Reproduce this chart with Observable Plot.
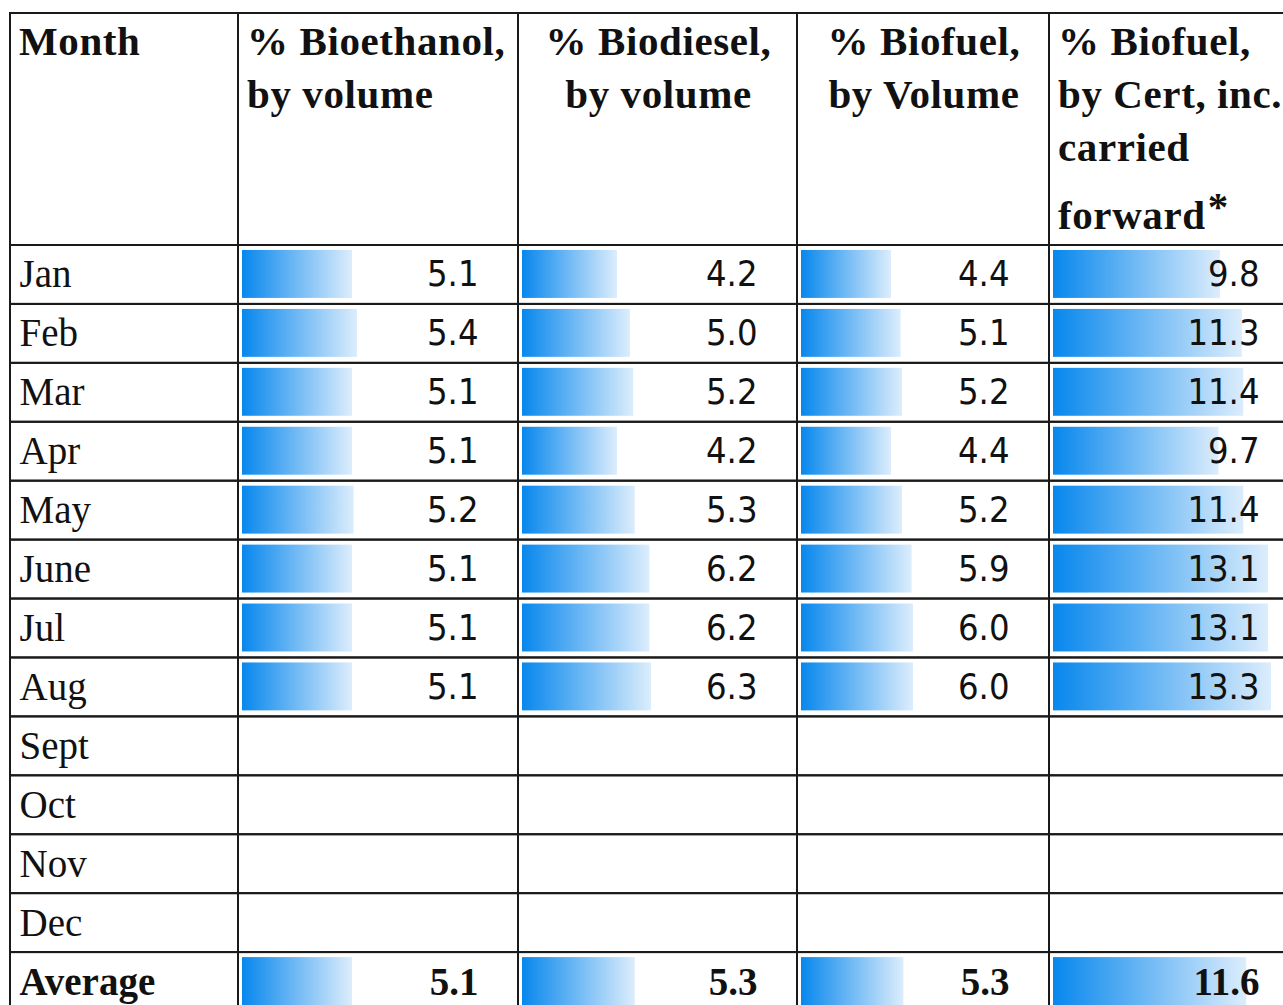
<!DOCTYPE html>
<html><head><meta charset="utf-8">
<script src="https://cdn.jsdelivr.net/npm/d3@7"></script>
<script src="https://cdn.jsdelivr.net/npm/@observablehq/plot@0.6"></script>
<style>
html,body{margin:0;padding:0;background:#fff;overflow:hidden;}
#root{position:relative;width:1283px;height:1005px;overflow:hidden;background:#fff;}
.hdr{position:absolute;top:12px;height:233px;box-sizing:border-box;border-top:2px solid #1a1a1a;border-left:2px solid #1a1a1a;
  font-family:"Liberation Serif","Times New Roman",serif;font-weight:bold;font-size:41px;letter-spacing:0.6px;line-height:53px;color:#111;padding-top:1px;white-space:nowrap;}
.hdr.left{padding-left:8px;text-align:left;}
.hdr.center{text-align:center;}
.hdr .last{margin-top:15px;}
.hdr .star{position:relative;top:-9px;margin-left:2px;}
</style></head><body><div id="root"></div>
<script>
// ---- data ----
const months = ["Jan","Feb","Mar","Apr","May","June","Jul","Aug","Sept","Oct","Nov","Dec","Average"];
const bioethanol = [5.1,5.4,5.1,5.1,5.2,5.1,5.1,5.1,null,null,null,null,5.1];
const biodiesel  = [4.2,5.0,5.2,4.2,5.3,6.2,6.2,6.3,null,null,null,null,5.3];
const biofuel    = [4.4,5.1,5.2,4.4,5.2,5.9,6.0,6.0,null,null,null,null,5.3];
const biofuelCert= [9.8,11.3,11.4,9.7,11.4,13.1,13.1,13.3,null,null,null,null,11.6];
const monthHeader = ["Month"];
const seriesHeaders = [
  ["% Bioethanol,", "by volume"],
  ["% Biodiesel,", "by volume"],
  ["% Biofuel,", "by Volume"],
  ["% Biofuel,", "by Cert, inc.", "carried", "forward*"]
];
const seriesValues = [bioethanol, biodiesel, biofuel, biofuelCert];
// Excel-style data bars: length = minimum length + proportional part (domain start below zero)
const barDomainStart = [-1.5, -1.67, -2.15, -1.64];

// ---- layout ----
const edges = [10, 238, 518, 797, 1049, 1299];
const headerAlign = ["left", "left", "center", "center", "left"];
const rowH = 58.9;
const bodyH = Math.round(months.length * rowH) + 1;
const maxBarLen = [115, 129, 112, 218];
const root = document.getElementById("root");

// headers
const allHeaders = [monthHeader, ...seriesHeaders];
allHeaders.forEach((lines, i) => {
  const d = document.createElement("div");
  d.className = "hdr " + headerAlign[i];
  d.style.left = (edges[i] - 1) + "px";
  d.style.width = (edges[i + 1] - edges[i] + 2) + "px";
  lines.forEach((ln) => {
    const l = document.createElement("div");
    if (ln.endsWith("*")) {
      l.className = "last";
      l.textContent = ln.slice(0, -1);
      const s = document.createElement("span");
      s.className = "star"; s.textContent = "*";
      l.appendChild(s);
    } else l.textContent = ln;
    d.appendChild(l);
  });
  root.appendChild(d);
});

const serif = "Liberation Serif, Times New Roman, serif";
const numFont = "DejaVu Sans Condensed, Liberation Sans, sans-serif";
const gridColor = "#1a1a1a";

// month column
{
  const W = edges[1] - edges[0] + 1;
  const rows = months.map(m => ({month: m}));
  const p = Plot.plot({
    width: W, height: bodyH,
    marginLeft: 1, marginRight: 0, marginTop: 1, marginBottom: 0,
    y: {domain: months, padding: 0, round: false, axis: null},
    marks: [
      Plot.text(rows.filter(d => d.month !== "Average"), {y: "month", text: "month", frameAnchor: "left", textAnchor: "start", dx: 9,
        fontFamily: serif, fontSize: 39, fill: "#111", style: {letterSpacing: "0.5px"}}),
      Plot.text(rows.filter(d => d.month === "Average"), {y: "month", text: "month", frameAnchor: "left", textAnchor: "start", dx: 9,
        fontFamily: serif, fontSize: 39, fontWeight: "bold", fill: "#111"}),
      Plot.cell(months, {y: d => d, fill: "none", stroke: gridColor, strokeWidth: 2})
    ]
  });
  p.style.position = "absolute"; p.style.left = (edges[0] - 1) + "px"; p.style.top = "244px";
  root.appendChild(p);
}

// series columns
seriesValues.forEach((vals, k) => {
  const i = k + 1;
  const W = edges[i + 1] - edges[i];
  const rows = months.map((m, j) => ({month: m, v: vals[j]})).filter(d => d.v != null);
  const vmax = d3.max(vals);
  const gid = "grad" + k;
  const p = Plot.plot({
    width: W, height: bodyH,
    marginLeft: 0, marginRight: 0, marginTop: 1, marginBottom: 0,
    x: {domain: [barDomainStart[k], vmax], range: [4, 4 + maxBarLen[k]], axis: null},
    y: {domain: months, padding: 0, round: false, axis: null},
    marks: [
      () => {
        const defs = d3.create("svg:defs");
        const g = defs.append("linearGradient").attr("id", gid).attr("x1", "0").attr("x2", "1").attr("y1", "0").attr("y2", "0");
        g.append("stop").attr("offset", "0").attr("stop-color", "#0787ed");
        g.append("stop").attr("offset", "1").attr("stop-color", "#dcedfc");
        return defs.node();
      },
      Plot.barX(rows, {y: "month", x1: () => barDomainStart[k], x2: "v", fill: `url(#${gid})`, insetTop: 5, insetBottom: 6}),
      Plot.text(rows.filter(d => d.month !== "Average"), {y: "month", text: d => d.v.toFixed(1), frameAnchor: "right", textAnchor: "end", dx: -40,
        fontFamily: numFont, fontSize: 36, fill: "#111"}),
      Plot.text(rows.filter(d => d.month === "Average"), {y: "month", text: d => d.v.toFixed(1), frameAnchor: "right", textAnchor: "end", dx: -40,
        fontFamily: serif, fontSize: 39, fontWeight: "bold", fill: "#111"}),
      Plot.cell(months, {y: d => d, fill: "none", stroke: gridColor, strokeWidth: 2})
    ]
  });
  p.style.position = "absolute"; p.style.left = edges[i] + "px"; p.style.top = "244px";
  root.appendChild(p);
});
</script>
</body></html>
